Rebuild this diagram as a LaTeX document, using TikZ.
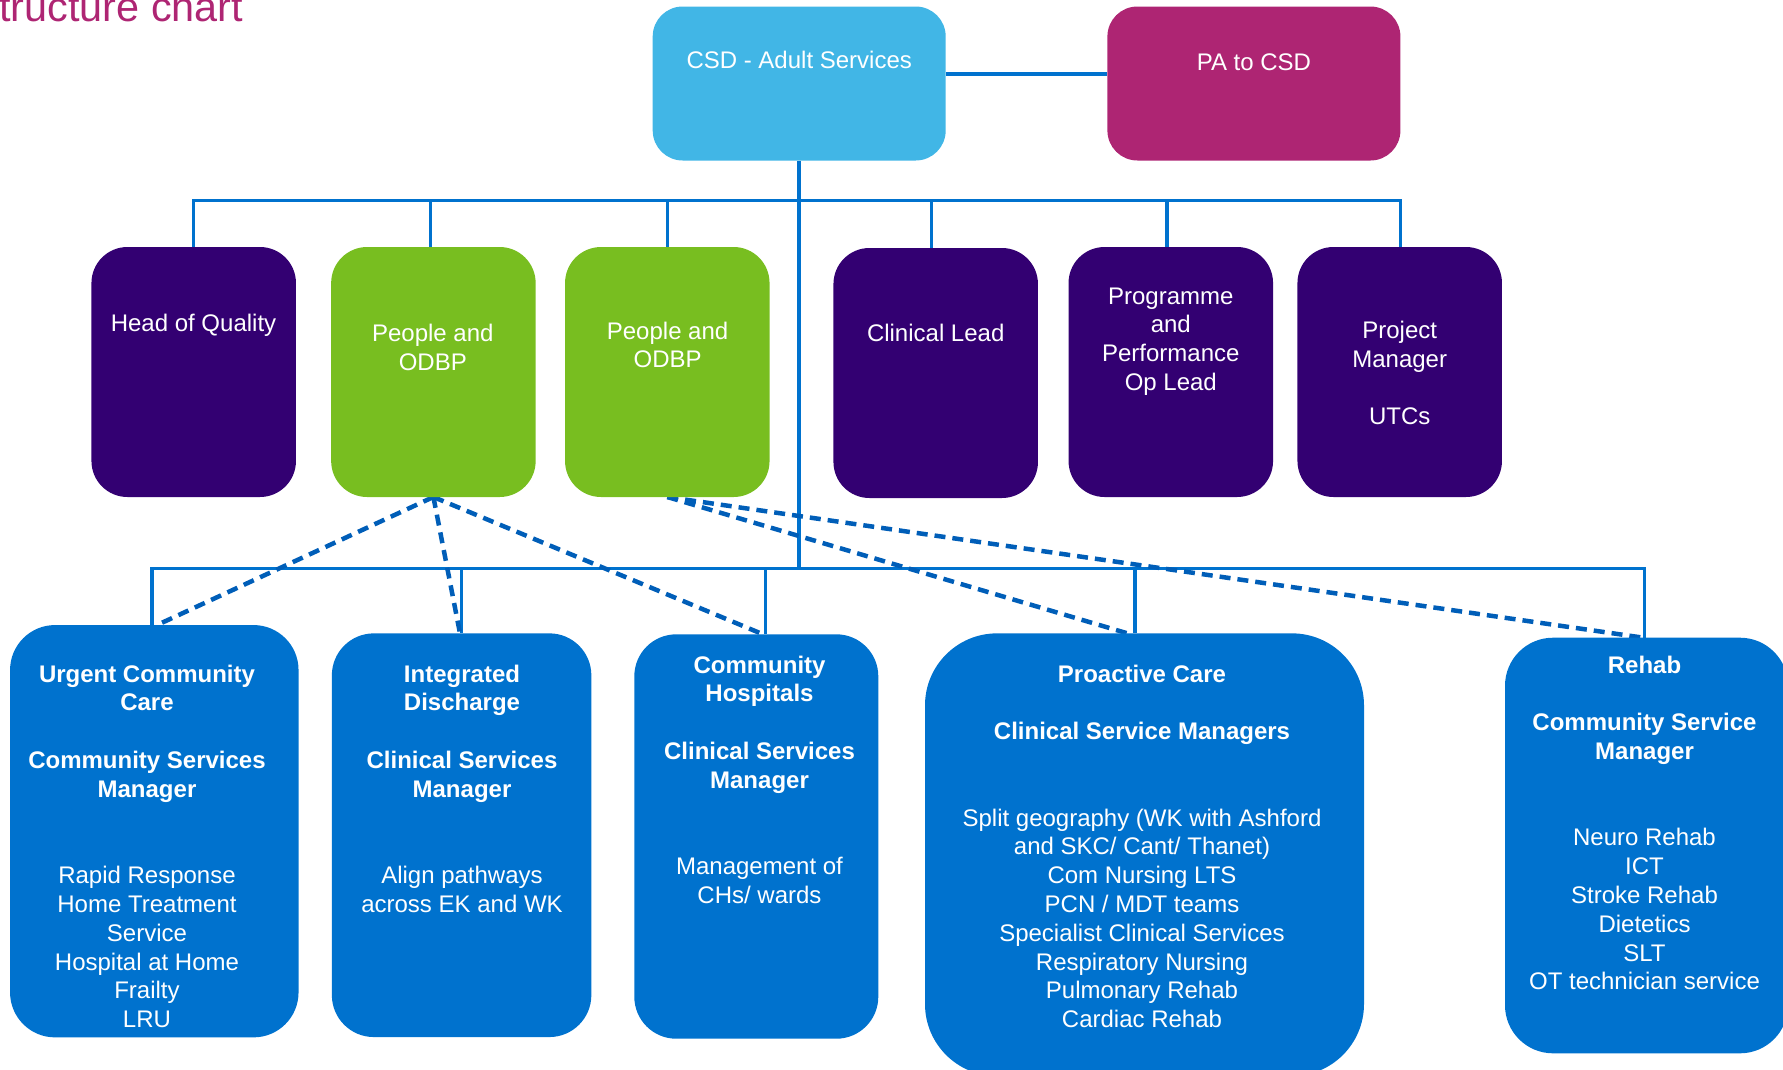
\documentclass[tikz,border=0pt]{standalone}
\usepackage{fontspec}
\setmainfont{Liberation Sans}
\usetikzlibrary{backgrounds}
\definecolor{nhsblue}{HTML}{0072CE}
\definecolor{dashblue}{HTML}{005EB8}
\definecolor{lightblue}{HTML}{41B6E6}
\definecolor{pinkcol}{HTML}{AE2573}
\definecolor{purplecol}{HTML}{330072}
\definecolor{greencol}{HTML}{78BE20}
\begin{document}
\begin{tikzpicture}[x=1pt,y=-1pt,
  boxbase/.style={rectangle, inner sep=0pt, outer sep=0pt, draw=none},
  topbox/.style={boxbase, rounded corners=30pt, minimum width=293pt, minimum height=154pt},
  midbox/.style={boxbase, rounded corners=36pt, minimum width=204.5pt, minimum height=250pt},
  lbl/.style={anchor=north, inner sep=0pt, outer sep=0pt, align=center, text=white, font=\fontsize{24}{28.8}\selectfont},
  solidline/.style={draw=nhsblue, line width=3.5pt},
  dashline/.style={draw=dashblue, line width=4.5pt, dash pattern=on 11pt off 7pt},
]
\useasboundingbox (0,0) rectangle (1783,1069);
\clip (0,0) rectangle (1783,1069);

% title
\node[anchor=base west, inner sep=0pt, text=pinkcol, font=\fontsize{41.4}{50}\selectfont] (title) at (-1,21.7) {tructure chart};

% top row
\node[topbox, fill=lightblue] (csd) at (799.2,83.5) {};
\node[topbox, fill=pinkcol] (pa) at (1253.9,83.5) {};

% middle row
\node[midbox, fill=purplecol] (hoq) at (193.7,372) {};
\node[midbox, fill=greencol] (p1) at (433.4,372) {};
\node[midbox, fill=greencol] (p2) at (667.3,372) {};
\node[midbox, fill=purplecol] (cl) at (935.7,373) {};
\node[midbox, fill=purplecol] (ppol) at (1170.8,372) {};
\node[midbox, fill=purplecol] (pm) at (1399.7,372) {};

% bottom row
\node[boxbase, fill=nhsblue, rounded corners=45pt, minimum width=288.5pt, minimum height=412.3pt] (urg) at (154.3,831.2) {};
\node[boxbase, fill=nhsblue, rounded corners=42pt, minimum width=259.5pt, minimum height=403.7pt] (int) at (461.6,835.2) {};
\node[boxbase, fill=nhsblue, rounded corners=42pt, minimum width=244pt, minimum height=404.4pt] (ch) at (756.3,836.5) {};
\node[boxbase, fill=nhsblue, rounded corners=72pt, minimum width=439pt, minimum height=442.7pt] (pro) at (1144.5,854.7) {};
\node[boxbase, fill=nhsblue, rounded corners=48pt, minimum width=283pt, minimum height=415.6pt] (reh) at (1646.5,845.5) {};

% helper coordinates
\coordinate (ub) at (0,200.5);
\coordinate (lb) at (0,568.3);
\coordinate (hoqD) at (hoq.north);
\coordinate (p1D) at ([xshift=-3pt]p1.north);
\coordinate (p2D) at (p2.north);
\coordinate (clD) at ([xshift=-4pt]cl.north);
\coordinate (ppolD) at ([xshift=-4pt]ppol.north);
\coordinate (pmD) at ([xshift=1pt]pm.north);
\coordinate (urgD) at ([xshift=-2.3pt]urg.north);
\coordinate (intD) at (int.north);
\coordinate (chD) at ([xshift=9.4pt]ch.north);
\coordinate (proD) at ([xshift=-9.3pt]pro.north);
\coordinate (rehD) at ([xshift=-2.2pt]reh.north);
\coordinate (urgE) at ([xshift=2.7pt]urg.north);
\coordinate (intE) at ([xshift=-1.6pt]int.north);
\coordinate (chE) at ([xshift=6.7pt]ch.north);
\coordinate (proE) at ([xshift=-17pt]pro.north);
\coordinate (rehE) at ([xshift=-3.2pt]reh.north);

\begin{scope}[on background layer]
  \draw[solidline] ([yshift=9.5pt]csd.east) -- ([yshift=9.5pt]pa.west);
  \draw[solidline] (csd.south) -- (csd.south |- lb);
  \draw[solidline, line cap=rect] (hoqD |- ub) -- (pmD |- ub);
  \foreach \d in {hoqD,p1D,p2D,clD,ppolD,pmD} \draw[solidline] (\d |- ub) -- (\d);
  \draw[solidline, line cap=rect] (urgD |- lb) -- (rehD |- lb);
  \foreach \d in {urgD,intD,chD,proD,rehD} \draw[solidline] (\d |- lb) -- (\d);
  \draw[dashline] (p1.south) -- (urgE);
  \draw[dashline] (p1.south) -- (intE);
  \draw[dashline] (p1.south) -- (chE);
  \draw[dashline] (p2.south) -- (proE);
  \draw[dashline] (p2.south) -- (rehE);
\end{scope}

% labels (north = first baseline - 19)
\node[lbl] (csd-t) at (799.2,49.3) {\rule{0pt}{19pt}CSD - Adult Services};
\node[lbl] (pa-t) at (1253.9,51.5) {\rule{0pt}{19pt}PA to CSD};
\node[lbl] (hoq-t) at (193.5,312.5) {\rule{0pt}{19pt}Head of Quality};
\node[lbl] (p1-t) at (432.8,322.3) {\rule{0pt}{19pt}People and\\ODBP};
\node[lbl] (p2-t) at (667.6,320) {\rule{0pt}{19pt}People and\\ODBP};
\node[lbl] (cl-t) at (935.7,322) {\rule{0pt}{19pt}Clinical Lead};
\node[lbl] (ppol-t) at (1170.8,285) {\rule{0pt}{19pt}Programme\\and\\Performance\\Op Lead};
\node[lbl] (pm-t) at (1399.7,319.3) {\rule{0pt}{19pt}Project\\Manager\\[28.8pt]UTCs};

\node[lbl] (urg-t) at (147,663) {\rule{0pt}{19pt}\textbf{Urgent Community}\\\textbf{Care}\\[28.8pt]\textbf{Community Services}\\\textbf{Manager}\\[57.6pt]Rapid Response\\Home Treatment\\Service\\Hospital at Home\\Frailty\\LRU};
\node[lbl] (int-t) at (462,663) {\rule{0pt}{19pt}\textbf{Integrated}\\\textbf{Discharge}\\[28.8pt]\textbf{Clinical Services}\\\textbf{Manager}\\[57.6pt]Align pathways\\across EK and WK};
\node[lbl] (ch-t) at (759.5,654) {\rule{0pt}{19pt}\textbf{Community}\\\textbf{Hospitals}\\[28.8pt]\textbf{Clinical Services}\\\textbf{Manager}\\[57.6pt]Management of\\CHs/ wards};
\node[lbl] (pro-t) at (1142,663) {\rule{0pt}{19pt}\textbf{Proactive Care}\\[28.8pt]\textbf{Clinical Service Managers}\\[57.6pt]Split geography (WK with Ashford\\and SKC/ Cant/ Thanet)\\Com Nursing LTS\\PCN / MDT teams\\Specialist Clinical Services\\Respiratory Nursing\\Pulmonary Rehab\\Cardiac Rehab};
\node[lbl] (reh-t) at (1644.5,654) {\rule{0pt}{19pt}\textbf{Rehab}\\[28.8pt]\textbf{Community Service}\\\textbf{Manager}\\[57.6pt]Neuro Rehab\\ICT\\Stroke Rehab\\Dietetics\\SLT\\OT technician service};
\end{tikzpicture}
\end{document}
